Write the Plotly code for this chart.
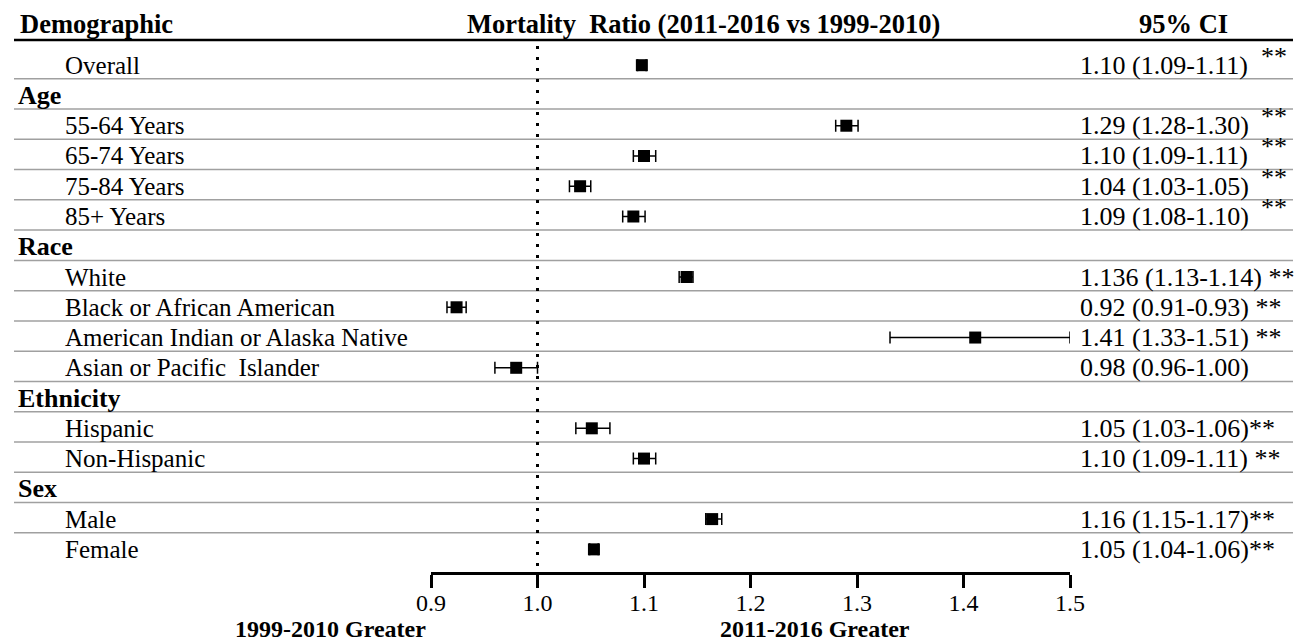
import plotly.graph_objects as go

# ---------------- data ----------------
rows = ["Overall", "Age", "55-64 Years", "65-74 Years", "75-84 Years", "85+ Years",
        "Race", "White", "Black or African American", "American Indian or Alaska Native",
        "Asian or Pacific\u00a0 Islander", "Ethnicity", "Hispanic", "Non-Hispanic",
        "Sex", "Male", "Female"]
is_group = [False, True, False, False, False, False, True, False, False, False, False,
            True, False, False, True, False, False]
estimate = [1.098, None, 1.290, 1.100, 1.040, 1.090, None, 1.140, 0.924, 1.411, 0.980,
            None, 1.051, 1.100, None, 1.164, 1.053]
lower = [1.094, None, 1.280, 1.090, 1.030, 1.080, None, 1.133, 0.915, 1.331, 0.960,
         None, 1.036, 1.090, None, 1.158, 1.049]
upper = [1.102, None, 1.301, 1.111, 1.050, 1.101, None, 1.146, 0.933, 1.500, 1.000,
         None, 1.068, 1.111, None, 1.173, 1.057]
ci_text = ["1.10 (1.09-1.11)", "", "1.29 (1.28-1.30)", "1.10 (1.09-1.11)", "1.04 (1.03-1.05)",
           "1.09 (1.08-1.10)", "", "1.136 (1.13-1.14)", "0.92 (0.91-0.93)", "1.41 (1.33-1.51)",
           "0.98 (0.96-1.00)", "", "1.05 (1.03-1.06)", "1.10 (1.09-1.11)", "",
           "1.16 (1.15-1.17)", "1.05 (1.04-1.06)"]
# "raised" = significance stars drawn above the text line, "inline" = after the text
star_mode = ["raised", "", "raised", "raised", "raised", "raised", "", "inline", "inline",
             "inline", "", "", "tight", "inline", "", "tight", "tight"]
tick_vals = [0.9, 1.0, 1.1, 1.2, 1.3, 1.4, 1.5]
tick_text = ["0.9", "1.0", "1.1", "1.2", "1.3", "1.4", "1.5"]

W, H = 1305, 644
FONT = "Liberation Serif, Times New Roman, serif"

idx = [i for i in range(len(rows)) if estimate[i] is not None]
xs = [estimate[i] for i in idx]
ys = [i for i in idx]
err_plus = [upper[i] - estimate[i] for i in idx]
err_minus = [estimate[i] - lower[i] for i in idx]

fig = go.Figure()
fig.add_trace(go.Scatter(
    x=xs, y=ys, mode="markers",
    marker=dict(symbol="square", size=12, color="black"),
    error_x=dict(type="data", symmetric=False, array=err_plus, arrayminus=err_minus,
                 color="black", thickness=1.5, width=6),
    showlegend=False, hoverinfo="skip",
))

def px_x(p):
    return p / W

def px_y(p):
    return (H - p) / H

y_top_px, y_bot_px = 40, 572
row0_px, row_step = 65.2, 30.26
y_top = (y_top_px - row0_px) / row_step
y_bot = (y_bot_px - row0_px) / row_step

shapes = []
# header rule
shapes.append(dict(type="line", xref="paper", yref="paper", x0=px_x(14), x1=px_x(1293),
                   y0=px_y(y_top_px), y1=px_y(y_top_px), line=dict(color="black", width=2.5)))
# row separators
for i in range(len(rows) - 1):
    shapes.append(dict(type="line", xref="paper", yref="y", x0=px_x(14), x1=px_x(1293),
                       y0=i + 0.45, y1=i + 0.45, layer="below",
                       line=dict(color="#a0a0a0", width=1.5)))
# reference line at 1.0
shapes.append(dict(type="line", xref="x", yref="y", x0=1.0, x1=1.0, y0=y_top + 0.2, y1=y_bot,
                   line=dict(color="black", width=3, dash="3px,8px")))

LBL = 25
CI = 26
ann = []
for i, r in enumerate(rows):
    if is_group[i]:
        ann.append(dict(x=px_x(16), y=i, xref="paper", yref="y", text="<b>%s</b>" % r,
                        xanchor="left", yanchor="middle", showarrow=False,
                        font=dict(family=FONT, size=LBL + 1, color="black")))
    else:
        ann.append(dict(x=px_x(63), y=i, xref="paper", yref="y", text=r,
                        xanchor="left", yanchor="middle", showarrow=False,
                        font=dict(family=FONT, size=LBL, color="black")))
    if ci_text[i]:
        t = ci_text[i]
        if star_mode[i] == "inline":
            t += " **"
        elif star_mode[i] == "tight":
            t += "**"
        ann.append(dict(x=px_x(1078), y=i, xref="paper", yref="y", text=t,
                        xanchor="left", yanchor="middle", showarrow=False,
                        font=dict(family=FONT, size=CI, color="black")))
        if star_mode[i] == "raised":
            ann.append(dict(x=px_x(1259), y=i, xref="paper", yref="y", text="**",
                            xanchor="left", yanchor="middle", showarrow=False, yshift=9,
                            font=dict(family=FONT, size=CI, color="black")))

hdr_y = px_y(24)
HDR = 26.5
ann.append(dict(x=px_x(18), y=hdr_y, xref="paper", yref="paper", text="<b>Demographic</b>",
                xanchor="left", yanchor="middle", showarrow=False,
                font=dict(family=FONT, size=HDR, color="black")))
ann.append(dict(x=px_x(703), y=hdr_y, xref="paper", yref="paper",
                text="<b>Mortality\u00a0 Ratio (2011-2016 vs 1999-2010)</b>",
                xanchor="center", yanchor="middle", showarrow=False,
                font=dict(family=FONT, size=HDR, color="black")))
ann.append(dict(x=px_x(1183), y=hdr_y, xref="paper", yref="paper", text="<b>95% CI</b>",
                xanchor="center", yanchor="middle", showarrow=False,
                font=dict(family=FONT, size=HDR, color="black")))
ann.append(dict(x=px_x(330), y=px_y(629), xref="paper", yref="paper",
                text="<b>1999-2010 Greater</b>", xanchor="center", yanchor="middle",
                showarrow=False, font=dict(family=FONT, size=24, color="black")))
ann.append(dict(x=px_x(815), y=px_y(629), xref="paper", yref="paper",
                text="<b>2011-2016 Greater</b>", xanchor="center", yanchor="middle",
                showarrow=False, font=dict(family=FONT, size=24, color="black")))

fig.update_layout(
    width=W, height=H, margin=dict(l=0, r=0, t=0, b=0, pad=0, autoexpand=False),
    paper_bgcolor="white", plot_bgcolor="white",
    xaxis=dict(domain=[px_x(431), px_x(1070)], range=[0.9, 1.5], tickvals=tick_vals,
               ticktext=tick_text, showline=True, linewidth=3, linecolor="black",
               ticks="outside", ticklen=13, tickwidth=3, tickcolor="black",
               ticklabelstandoff=-6,
               showgrid=False, zeroline=False, automargin=False,
               tickfont=dict(family=FONT, size=24, color="black")),
    yaxis=dict(domain=[px_y(y_bot_px), px_y(y_top_px)], range=[y_bot, y_top],
               visible=False, showgrid=False, zeroline=False, automargin=False),
    shapes=shapes, annotations=ann,
)

fig.write_html("out.html")
